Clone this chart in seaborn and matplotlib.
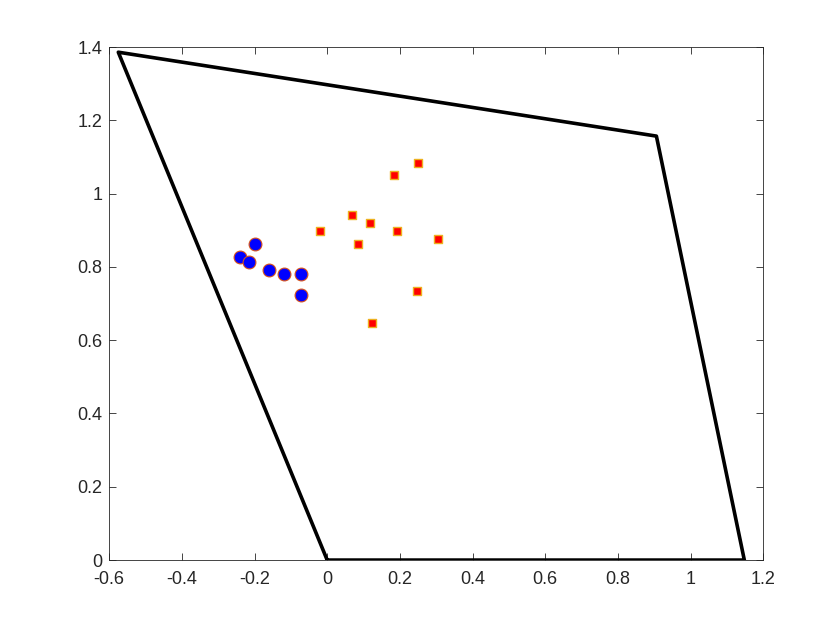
import numpy as np
import pandas as pd
import matplotlib
matplotlib.use("Agg")
import matplotlib.pyplot as plt
import seaborn as sns

# boundary polygon (closed)
poly_x = [0.0, 1.148, 0.906, -0.575, 0.0]
poly_y = [0.0, 0.0, 1.157, 1.386, 0.0]

# blue circles
circ_x = [-0.199, -0.239, -0.216, -0.159, -0.118, -0.072, -0.073]
circ_y = [0.862, 0.828, 0.814, 0.791, 0.782, 0.781, 0.724]

# red squares
sq_x = [0.249, 0.184, 0.067, 0.119, -0.021, 0.191, 0.304, 0.086, 0.246, 0.122]
sq_y = [1.083, 1.050, 0.941, 0.919, 0.897, 0.897, 0.875, 0.862, 0.733, 0.646]

x_ticks = [-0.6, -0.4, -0.2, 0, 0.2, 0.4, 0.6, 0.8, 1, 1.2]
y_ticks = [0, 0.2, 0.4, 0.6, 0.8, 1, 1.2, 1.4]

sns.set_style("white")
plt.rcParams['font.family'] = ['Liberation Sans', 'DejaVu Sans']

fig = plt.figure(figsize=(8.4, 6.3), dpi=100)
ax = fig.add_axes([0.13, 0.111, 0.7786, 0.8143])

poly = pd.DataFrame({'x': poly_x, 'y': poly_y})
sns.lineplot(data=poly, x='x', y='y', sort=False, estimator=None,
             color='black', linewidth=2.6, ax=ax)

sns.scatterplot(x=circ_x, y=circ_y, marker='o', s=85, color='#0000ff',
                edgecolor='#D95319', linewidth=0.8, ax=ax, zorder=3)
sns.scatterplot(x=sq_x, y=sq_y, marker='s', s=40, color='#ff0000',
                edgecolor='#EDB120', linewidth=1.0, ax=ax, zorder=3)

ax.set_xlim(-0.6, 1.2)
ax.set_ylim(0, 1.4)
ax.set_xticks(x_ticks)
ax.set_xticklabels([f"{t:g}" for t in x_ticks])
ax.set_yticks(y_ticks)
ax.set_yticklabels([f"{t:g}" for t in y_ticks])
ax.set_xlabel('')
ax.set_ylabel('')
ax.tick_params(direction='in', length=5, width=0.6, colors='#262626',
               labelsize=13, top=True, right=True, bottom=True, left=True)
ax.tick_params(axis='x', pad=8)
ax.tick_params(axis='y', pad=5)
for s in ax.spines.values():
    s.set_visible(True)
    s.set_color('#262626')
    s.set_linewidth(0.6)

fig.savefig('out.png', dpi=100)
